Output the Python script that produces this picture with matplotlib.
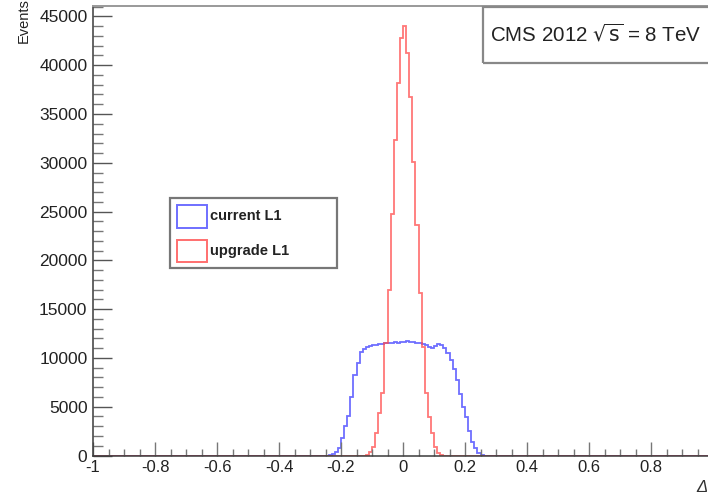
import numpy as np
import matplotlib

matplotlib.use("Agg")
import matplotlib.pyplot as plt
from matplotlib.patches import Rectangle
from matplotlib.ticker import MultipleLocator

W, H = 708, 497

# histogram binning: 200 bins of 0.01 from -1 to 1
X_MIN, X_MAX, N_BINS = -1.0, 1.0, 200

# upgrade L1 (red), first non-empty bin starts at -0.12
RED_START = -0.12
RED_VALUES = [100, 400, 870, 2300, 4400, 6400, 11500, 17000, 24800, 32300,
              38200, 42800, 44000, 41250, 36750, 30100, 23600, 16650, 11100,
              6400, 3950, 2300, 870, 300, 80]

# current L1 (blue), first non-empty bin starts at -0.24
BLUE_START = -0.24
BLUE_VALUES = [30, 150, 360, 770, 1800, 3000, 4050, 6000, 8250, 9500,
               10600, 10900, 11100, 11200, 11300, 11350, 11400, 11450, 11500, 11550,
               11500, 11600, 11550, 11650, 11600, 11700, 11600, 11650, 11550, 11500,
               11450, 11300, 11100, 11000, 11200, 11400, 11350, 11050, 10550, 9800,
               8900, 7700, 6300, 5000, 3900, 2500, 1400, 800, 300, 50]

LABELS = ["current L1", "upgrade L1"]
Y_TOP = 46070

BLUE = "#4a4aff"
RED = "#ff4a4a"
AXIS = "#3a3a3a"


def full_hist(start, values):
    edges = np.linspace(X_MIN, X_MAX, N_BINS + 1)
    counts = np.zeros(N_BINS)
    i0 = int(round((start - X_MIN) / 0.01))
    counts[i0:i0 + len(values)] = values
    return edges, counts


def fx(px):
    return px / W


def fy(py):
    return 1 - py / H


plt.rcParams["font.family"] = ["Liberation Sans", "DejaVu Sans"]
fig = plt.figure(figsize=(W / 100, H / 100), dpi=100)
ax = fig.add_axes([fx(93), fy(455.5), (713 - 93) / W, (455.5 - 6) / H])

edges, blue = full_hist(BLUE_START, BLUE_VALUES)
ax.stairs(blue, edges, color=BLUE, lw=1.3, alpha=0.8)
edges, red = full_hist(RED_START, RED_VALUES)
ax.stairs(red, edges, color=RED, lw=1.3, alpha=0.75)

ax.set_xlim(X_MIN, X_MAX)
ax.set_ylim(0, Y_TOP)
ax.xaxis.set_minor_locator(MultipleLocator(0.05))
ax.yaxis.set_major_locator(MultipleLocator(5000))
ax.yaxis.set_minor_locator(MultipleLocator(1000))
ax.set_xticks(np.arange(-1, 0.81, 0.2))
ax.set_xticklabels(["-1", "-0.8", "-0.6", "-0.4", "-0.2", "0", "0.2", "0.4", "0.6", "0.8"])
ax.tick_params(axis="x", which="major", direction="in", length=10, width=1,
               color="#777", labelsize=12, pad=3, labelcolor="#222")
ax.tick_params(axis="x", which="minor", direction="in", length=5, width=1, color="#777")
ax.tick_params(axis="y", which="major", direction="in", length=14, width=1,
               color="#555", labelsize=12.5, pad=4, labelcolor="#222")
ax.tick_params(axis="y", which="minor", direction="in", length=7, width=1, color="#777")
for side in ["left", "bottom"]:
    ax.spines[side].set_color(AXIS)
    ax.spines[side].set_linewidth(1.1)
ax.spines["top"].set_color("#999")
ax.spines["top"].set_linewidth(1.4)
ax.spines["right"].set_visible(False)

fig.text(fx(24), fy(21), "Events", rotation=90, ha="center", va="center",
         fontsize=10.5, color="#222")
fig.text(fx(707), fy(487), "\u0394", ha="right", va="center",
         fontsize=12, style="italic", color="#333")

# CMS box
fig.patches.append(Rectangle((fx(483), fy(63)), fx(240), (63 - 7) / H,
                             transform=fig.transFigure, fill=False,
                             edgecolor="#888", lw=1.6))
fig.text(fx(490), fy(34), "CMS 2012 $\\sqrt{\\mathrm{s}}$ = 8 TeV", ha="left",
         va="center", fontsize=14.8, color="#222")

# legend
fig.patches.append(Rectangle((fx(170), fy(268)), fx(167), (268 - 198) / H,
                             transform=fig.transFigure, fill=False,
                             edgecolor="#777", lw=1.6))
for (top, bot), col, lab in zip([(205, 228), (240, 262)], [BLUE, RED], LABELS):
    fig.patches.append(Rectangle((fx(177), fy(bot)), fx(30), (bot - top) / H,
                                 transform=fig.transFigure, fill=False,
                                 edgecolor=col, lw=1.4, alpha=0.8))
    fig.text(fx(210), fy((top + bot) / 2), lab, ha="left", va="center",
             fontsize=10.5, fontweight="bold", color="#222")

fig.savefig("out.png", dpi=100)
